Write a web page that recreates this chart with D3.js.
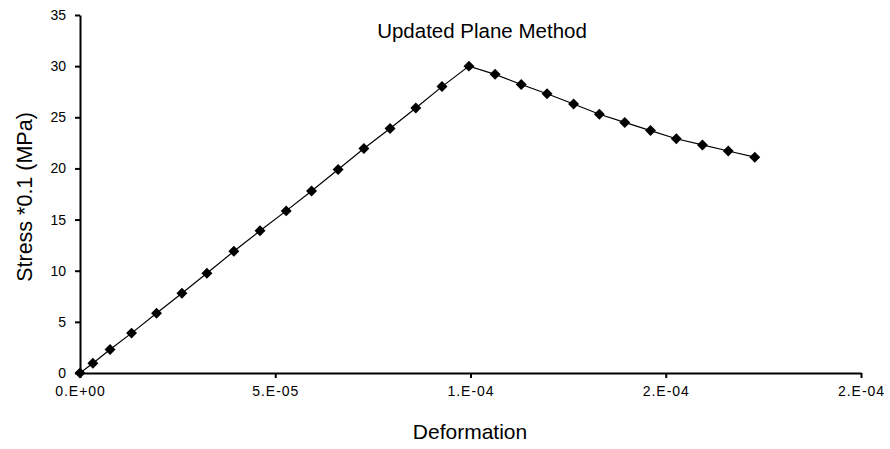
<!DOCTYPE html>
<html>
<head>
<meta charset="utf-8">
<script src="https://cdn.jsdelivr.net/npm/d3@7"></script>
<style>
  html, body { margin: 0; padding: 0; background: #fff; }
  svg { display: block; }
  text { font-family: "Liberation Sans", Arial, sans-serif; fill: #000; }
</style>
</head>
<body>
<svg id="chart" width="890" height="449"></svg>
<script>
const deformation = [0, 3.3e-6, 7.7e-6, 1.32e-5, 1.96e-5, 2.61e-5, 3.25e-5, 3.94e-5, 4.61e-5, 5.28e-5,
  5.93e-5, 6.61e-5, 7.27e-5, 7.94e-5, 8.6e-5, 9.27e-5, 9.96e-5, 1.063e-4, 1.13e-4, 1.196e-4,
  1.264e-4, 1.33e-4, 1.395e-4, 1.461e-4, 1.527e-4, 1.594e-4, 1.66e-4, 1.728e-4];
const stress = [0, 0.95, 2.3, 3.9, 5.85, 7.8, 9.75, 11.9, 13.9, 15.85,
  17.8, 19.9, 21.95, 23.9, 25.9, 28.0, 30.0, 29.2, 28.2, 27.3,
  26.3, 25.3, 24.5, 23.7, 22.9, 22.3, 21.7, 21.1];
const xTickValues = [0, 5e-5, 1e-4, 1.5e-4, 2e-4];
const xTickLabels = ["0.E+00", "5.E-05", "1.E-04", "2.E-04", "2.E-04"];
const yTickValues = [0, 5, 10, 15, 20, 25, 30, 35];
const chartTitle = "Updated Plane Method";
const xTitle = "Deformation";
const yTitle = "Stress *0.1 (MPa)";

const data = deformation.map((d, i) => ({ x: d, y: stress[i] }));

const svg = d3.select("#chart");
const x = d3.scaleLinear().domain([0, 2e-4]).range([80, 861]);
const y = d3.scaleLinear().domain([0, 35]).range([373, 15]);

// X axis
const xAxis = svg.append("g")
  .attr("transform", `translate(0,${y(0)})`)
  .call(d3.axisBottom(x).tickValues(xTickValues)
    .tickFormat((d, i) => xTickLabels[i]).tickSize(5).tickSizeOuter(0).tickPadding(8));
xAxis.select(".domain").attr("stroke", "#000").attr("stroke-width", 2);
xAxis.selectAll(".tick line").attr("stroke", "#000").attr("stroke-width", 2);
xAxis.selectAll(".tick text").attr("font-size", 14).attr("letter-spacing", 1)
  .attr("font-family", "Liberation Sans, Arial, sans-serif").attr("fill", "#000");

// Y axis
const yAxis = svg.append("g")
  .attr("transform", `translate(${x(0)},0)`)
  .call(d3.axisLeft(y).tickValues(yTickValues).tickSize(5).tickSizeOuter(0).tickPadding(9));
yAxis.select(".domain").attr("stroke", "#000").attr("stroke-width", 2);
yAxis.selectAll(".tick line").attr("stroke", "#000").attr("stroke-width", 2);
yAxis.selectAll(".tick text").attr("font-size", 14)
  .attr("font-family", "Liberation Sans, Arial, sans-serif").attr("fill", "#000");

// Line
svg.append("path")
  .datum(data)
  .attr("fill", "none")
  .attr("stroke", "#000")
  .attr("stroke-width", 1.2)
  .attr("d", d3.line().x(d => x(d.x)).y(d => y(d.y)));

// Markers (diamonds)
const diamond = d3.symbol().type(d3.symbolSquare).size(60);
svg.append("g").selectAll("path")
  .data(data)
  .join("path")
  .attr("d", diamond)
  .attr("transform", d => `translate(${x(d.x)},${y(d.y)}) rotate(45)`)
  .attr("fill", "#000");

// Titles
svg.append("text")
  .attr("x", 482).attr("y", 38)
  .attr("text-anchor", "middle")
  .attr("font-size", 20.5)
  .text(chartTitle);

svg.append("text")
  .attr("x", 470).attr("y", 439)
  .attr("text-anchor", "middle")
  .attr("font-size", 21)
  .text(xTitle);

svg.append("text")
  .attr("transform", "translate(32,197) rotate(-90)")
  .attr("text-anchor", "middle")
  .attr("font-size", 21.5)
  .text(yTitle);
</script>
</body>
</html>
